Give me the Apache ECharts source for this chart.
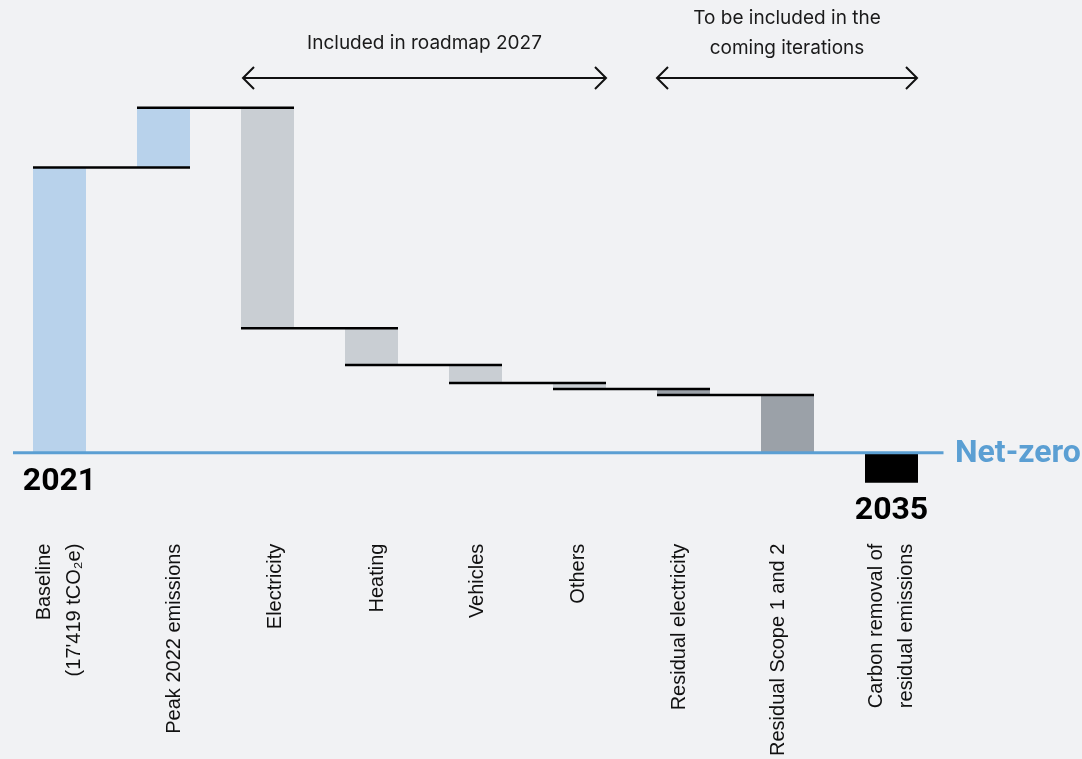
<!DOCTYPE html>
<html>
<head>
<meta charset="utf-8">
<script src="https://cdn.jsdelivr.net/npm/echarts@6/dist/echarts.min.js"></script>
<style>
html,body{margin:0;padding:0;background:#f1f2f4;}
#main{width:1082px;height:759px;}
</style>
</head>
<body>
<div id="main"></div>
<script>
// ---- data ----
var categories = [
  "Baseline\n(17'419 tCO₂e)",
  "Peak 2022 emissions",
  "Electricity",
  "Heating",
  "Vehicles",
  "Others",
  "Residual electricity",
  "Residual Scope 1 and 2",
  "Carbon removal of\nresidual emissions"
];
var barLow  = [0,     17419, 7610,  5360, 4260, 3900, 3530, 0,    0];
var barHigh = [17419, 21070, 21070, 7610, 5360, 4260, 3900, 3530, -1830];
// connector level after each step (index i -> spans bar i to bar i+1)
var connectorLevels = [17419, 21070, 7610, 5360, 4260, 3900, 3530];

// ---- styling (not data) ----
var barColors = ['#b8d2eb','#b8d2eb','#c9ced3','#c9ced3','#c9ced3','#c9ced3','#9ba1a8','#9ba1a8','#000000'];
var labelShift = [0, 11, 7.5, 5.5, 1.5, -1.5, -4.5, -9.5, 0];

var baseData = barLow.map(function(v){ return v; });
var valData = barHigh.map(function(h, i){
  return { value: h - barLow[i], itemStyle: { color: barColors[i] } };
});
var connData = connectorLevels.map(function(v, i){ return [i, v]; });

var rich = {};
labelShift.forEach(function(s, i){
  var pad = s >= 0 ? [2 * s, 0, 0, 0] : [0, 0, -2 * s, 0];
  rich['s' + i] = { fontFamily: 'Liberation Sans', fontSize: 20, lineHeight: 30, color: '#111', padding: pad };
});

var chart = echarts.init(document.getElementById('main'), null, {renderer:'canvas'});

var option = {
  backgroundColor: '#f1f2f4',
  animation: false,
  grid: { left: 7.5, right: 138.5, top: 43.5, bottom: 222.9 },
  xAxis: {
    type: 'category',
    data: categories,
    axisLine: { show: false, onZero: false },
    axisTick: { show: false },
    splitLine: { show: false },
    axisLabel: {
      rotate: 90,
      interval: 0,
      margin: 9,
      fontFamily: 'Liberation Sans',
      fontSize: 20,
      lineHeight: 30,
      color: '#111',
      formatter: function(v, i){
        return v.split('\n').map(function(line){ return '{s' + i + '|' + line + '}'; }).join('\n');
      },
      rich: rich
    }
  },
  yAxis: {
    type: 'value',
    min: -5000, max: 25000,
    show: false,
    splitLine: { show: false }
  },
  series: [
    {
      type: 'bar', stack: 'w', data: baseData, barWidth: 53,
      itemStyle: { color: 'transparent' }, silent: true
    },
    {
      type: 'bar', stack: 'w', data: valData, barWidth: 53
    },
    {
      type: 'custom',
      data: connData,
      z: 5,
      renderItem: function(params, api){
        var i = api.value(0), v = api.value(1);
        var bw = api.size([1, 0])[0] * 53 / 104;
        var p1 = api.coord([i, v]);
        var p2 = api.coord([i + 1, v]);
        return {
          type: 'line',
          shape: { x1: p1[0] - bw / 2, y1: p1[1], x2: p2[0] + bw / 2, y2: p2[1] },
          style: { stroke: '#000', lineWidth: 2.5 }
        };
      }
    },
    {
      type: 'custom',
      data: [[0, 0]],
      z: 6,
      renderItem: function(params, api){
        var cs = params.coordSys;
        var y = api.coord([0, 0])[1];
        return {
          type: 'line',
          shape: { x1: cs.x + 5.5, y1: y, x2: cs.x + cs.width, y2: y },
          style: { stroke: '#5b9fd3', lineWidth: 3 }
        };
      }
    }
  ]
};
chart.setOption(option);

// annotations positioned from the axis scale
function px(i, v){ return chart.convertToPixel({gridIndex:0}, [i, v]); }
var bw = (px(1,0)[0] - px(0,0)[0]) * 53 / 104;
var zeroY = px(0,0)[1];
var arrowY = 78;
function arrow(x1, x2){
  return [
    { type:'line', shape:{x1:x1, y1:arrowY, x2:x2, y2:arrowY}, style:{stroke:'#111', lineWidth:2} },
    { type:'polyline', shape:{points:[[x1+11, arrowY-11],[x1, arrowY],[x1+11, arrowY+11]]}, style:{stroke:'#111', lineWidth:2, fill:null} },
    { type:'polyline', shape:{points:[[x2-11, arrowY-11],[x2, arrowY],[x2-11, arrowY+11]]}, style:{stroke:'#111', lineWidth:2, fill:null} }
  ];
}
var a1l = px(2,0)[0] - bw/2 + 2, a1r = px(5,0)[0] + bw/2;
var a2l = px(6,0)[0] - bw/2, a2r = px(8,0)[0] + bw/2 - 1;
var g = [];
g = g.concat(arrow(a1l, a1r), arrow(a2l, a2r));
g.push({ type:'text', x:(a1l+a1r)/2, y:43, style:{ text:'Included in roadmap 2027', fontFamily:'Inter', fontSize:19, fill:'#1a1a1a', align:'center', verticalAlign:'middle' } });
g.push({ type:'text', x:(a2l+a2r)/2, y:33, style:{ text:'To be included in the\ncoming iterations', fontFamily:'Inter', fontSize:19, lineHeight:30, fill:'#1a1a1a', align:'center', verticalAlign:'middle' } });
g.push({ type:'text', x:px(0,0)[0], y:zeroY + 29, style:{ text:'2021', fontFamily:'Roboto', fontWeight:'bold', fontSize:32, fill:'#000', align:'center', verticalAlign:'middle' } });
g.push({ type:'text', x:px(8,0)[0], y:zeroY + 58, style:{ text:'2035', fontFamily:'Roboto', fontWeight:'bold', fontSize:32, fill:'#000', align:'center', verticalAlign:'middle' } });
g.push({ type:'text', x:955, y:zeroY + 1, style:{ text:'Net-zero', fontFamily:'Roboto', fontWeight:'bold', fontSize:32, fill:'#5b9fd3', align:'left', verticalAlign:'middle' } });
chart.setOption({ graphic: g });
</script>
</body>
</html>
